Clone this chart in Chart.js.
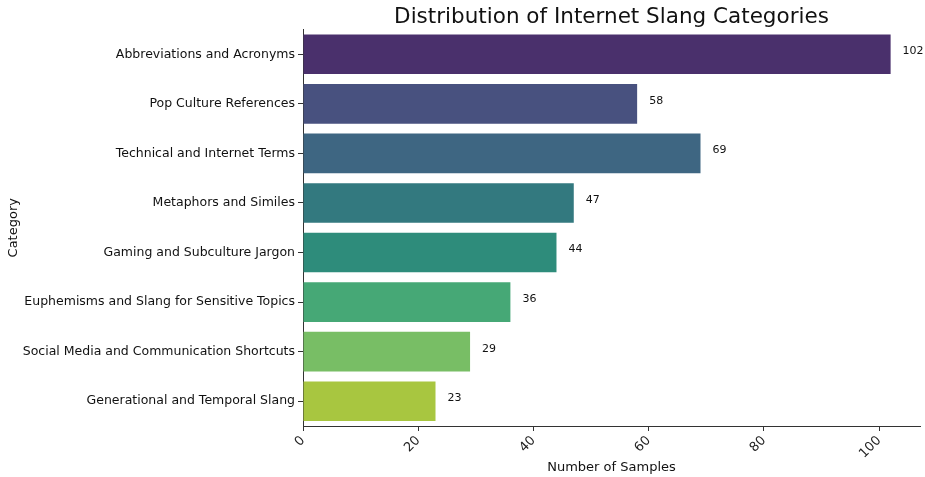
<!DOCTYPE html>
<html>
<head>
<meta charset="utf-8">
<script src="https://cdn.jsdelivr.net/npm/chart.js@4"></script>
<style>
  html, body { margin: 0; padding: 0; background: #fff; }
  #wrap { width: 925px; height: 477px; }
</style>
</head>
<body>
<div id="wrap"><canvas id="chart"></canvas></div>
<script>
const categories = [
    'Abbreviations and Acronyms',
    'Pop Culture References',
    'Technical and Internet Terms',
    'Metaphors and Similes',
    'Gaming and Subculture Jargon',
    'Euphemisms and Slang for Sensitive Topics',
    'Social Media and Communication Shortcuts',
    'Generational and Temporal Slang'
];
const counts = [102, 58, 69, 47, 44, 36, 29, 23];
const barColors = ['#4a306c', '#48517f', '#3e6682', '#33797f', '#2e8c7b', '#46a876', '#78be65', '#a8c640'];
const xTicks = [0, 20, 40, 60, 80, 100];

// write the count just past the end of each bar
const valueLabels = {
    id: 'valueLabels',
    afterDatasetsDraw(chart) {
        const ctx = chart.ctx;
        const meta = chart.getDatasetMeta(0);
        ctx.save();
        ctx.font = '11px "DejaVu Sans"';
        ctx.fillStyle = '#111';
        ctx.textAlign = 'left';
        ctx.textBaseline = 'middle';
        meta.data.forEach((bar, i) => {
            ctx.fillText(String(counts[i]), bar.x + 12, bar.y - 3);
        });
        ctx.restore();
    }
};

const ctx = document.getElementById('chart').getContext('2d');
new Chart(ctx, {
    type: 'bar',
    data: {
        labels: categories,
        datasets: [{
            data: counts,
            backgroundColor: barColors,
            barPercentage: 0.8,
            categoryPercentage: 1.0
        }]
    },
    options: {
        indexAxis: 'y',
        responsive: true,
        maintainAspectRatio: false,
        animation: false,
        layout: { padding: { right: 5, top: 0, left: 0, bottom: 0 } },
        plugins: {
            legend: { display: false },
            tooltip: { enabled: false },
            title: {
                display: true,
                fullSize: false,
                text: 'Distribution of Internet Slang Categories',
                color: '#111',
                font: { family: 'DejaVu Sans', size: 21.5, weight: 'normal', lineHeight: 1.0 },
                padding: { top: 7, bottom: 1 }
            }
        },
        scales: {
            x: {
                min: 0,
                max: 107.1,
                afterFit: s => { s.height = 51; },
                afterBuildTicks: s => { s.ticks = xTicks.map(v => ({ value: v })); },
                ticks: {
                    minRotation: 45,
                    maxRotation: 45,
                    color: '#222',
                    font: { family: 'DejaVu Sans', size: 13 },
                    padding: 2
                },
                grid: { display: true, drawOnChartArea: false, tickLength: 5, color: '#333' },
                border: { display: true, color: '#333', width: 1 },
                title: {
                    display: true,
                    text: 'Number of Samples',
                    color: '#111',
                    font: { family: 'DejaVu Sans', size: 13 },
                    padding: { top: 0, bottom: 2 }
                }
            },
            y: {
                afterFit: s => { s.width = 303; },
                ticks: {
                    color: '#111',
                    font: { family: 'DejaVu Sans', size: 12.5 },
                    padding: 3
                },
                grid: { display: true, drawOnChartArea: false, tickLength: 5, color: '#333', offset: false },
                border: { display: true, color: '#333', width: 1 },
                title: {
                    display: true,
                    text: 'Category',
                    color: '#111',
                    font: { family: 'DejaVu Sans', size: 13 },
                    padding: { top: 6, bottom: 0 }
                }
            }
        }
    },
    plugins: [valueLabels]
});
</script>
</body>
</html>
